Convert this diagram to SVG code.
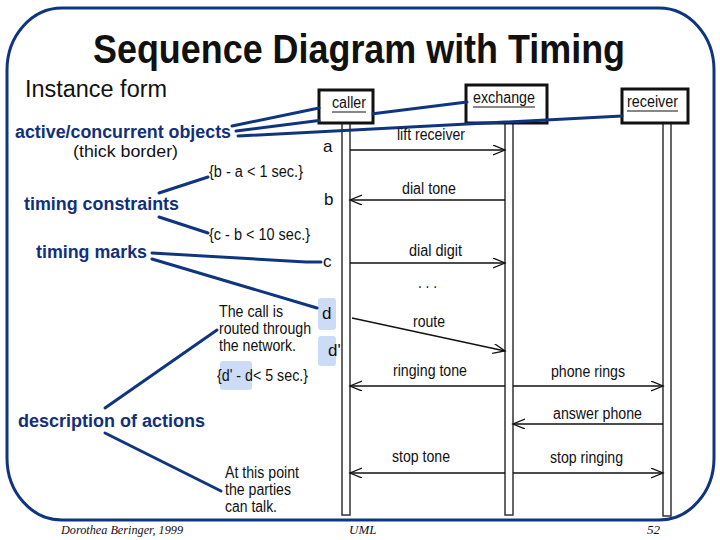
<svg xmlns="http://www.w3.org/2000/svg" width="720" height="540" viewBox="0 0 720 540">
<defs>
<style>
.t{font-family:"Liberation Sans",Arial,sans-serif;fill:#111;}
.lbl{font-family:"Liberation Sans",Arial,sans-serif;font-size:16px;fill:#111;}
.mk{font-family:"Liberation Sans",Arial,sans-serif;font-size:17px;fill:#111;}
.blue{font-family:"Liberation Sans",Arial,sans-serif;font-size:17.5px;font-weight:bold;fill:#12307a;}
.foot{font-family:"Liberation Serif","Times New Roman",serif;font-style:italic;font-size:13px;fill:#111;}
.msg{stroke:#111;stroke-width:1.3;fill:none;}
.lead{stroke:#0f3580;stroke-width:3;fill:none;stroke-linecap:round;}
.life{fill:#fff;stroke:#333;stroke-width:1.5;}
.box{fill:#fff;stroke:#111;stroke-width:3;}
.hl{fill:#cddcf6;}
.ul{stroke:#111;stroke-width:1.2;}
</style>
<marker id="arr" markerUnits="userSpaceOnUse" markerWidth="14" markerHeight="12" refX="12" refY="5" orient="auto">
<path d="M0,0 L12,5 L0,10" fill="none" stroke="#111" stroke-width="1.3"/>
</marker>
</defs>
<rect x="7" y="8" width="707" height="512" rx="55" ry="62" fill="#fff" stroke="#0f3580" stroke-width="3"/>
<text class="t" x="359" y="63" font-size="40" font-weight="bold" text-anchor="middle" textLength="532" lengthAdjust="spacingAndGlyphs">Sequence Diagram with Timing</text>
<text class="t" x="25" y="97" font-size="23" textLength="142" lengthAdjust="spacingAndGlyphs">Instance form</text>

<g id="highlights">
<rect class="hl" x="318" y="298" width="18" height="32" rx="3"/>
<rect class="hl" x="318" y="336" width="18" height="30" rx="3"/>
<rect class="hl" x="220" y="361" width="32" height="29" rx="3"/>
</g>

<g id="caller">
<rect class="life" x="342" y="122" width="8" height="393"/>
<rect class="box" x="319" y="90" width="54" height="33"/>
<text class="lbl" x="332" y="108" textLength="34" lengthAdjust="spacingAndGlyphs">caller</text>
<line class="ul" x1="332" y1="112" x2="366" y2="112"/>
</g>
<g id="exchange">
<rect class="life" x="505" y="122" width="8" height="393"/>
<rect class="box" x="466" y="85" width="81" height="38"/>
<text class="lbl" x="473" y="103" textLength="62" lengthAdjust="spacingAndGlyphs">exchange</text>
<line class="ul" x1="473" y1="107" x2="535" y2="107"/>
</g>
<g id="receiver">
<rect class="life" x="663" y="122" width="8" height="394"/>
<rect class="box" x="622" y="89" width="66" height="34"/>
<text class="lbl" x="627" y="107" textLength="51" lengthAdjust="spacingAndGlyphs">receiver</text>
<line class="ul" x1="627" y1="111" x2="678" y2="111"/>
</g>

<g id="connectors">
<line class="msg" x1="350" y1="150" x2="505" y2="150" marker-end="url(#arr)"/>
<line class="msg" x1="505" y1="200" x2="350" y2="200" marker-end="url(#arr)"/>
<line class="msg" x1="350" y1="263" x2="505" y2="263" marker-end="url(#arr)"/>
<line class="msg" x1="352" y1="318" x2="505" y2="351" marker-end="url(#arr)"/>
<line class="msg" x1="505" y1="386" x2="350" y2="386" marker-end="url(#arr)"/>
<line class="msg" x1="513" y1="386" x2="663" y2="386" marker-end="url(#arr)"/>
<line class="msg" x1="663" y1="424" x2="513" y2="424" marker-end="url(#arr)"/>
<line class="msg" x1="505" y1="473" x2="350" y2="473" marker-end="url(#arr)"/>
<line class="msg" x1="513" y1="473" x2="663" y2="473" marker-end="url(#arr)"/>

<line class="lead" x1="232" y1="126" x2="319" y2="108"/>
<line class="lead" x1="236" y1="131" x2="319" y2="120.5"/>
<line class="lead" x1="373" y1="113.7" x2="467" y2="101.9"/>
<line class="lead" x1="238" y1="136" x2="622" y2="116"/>
<line class="lead" x1="159" y1="193" x2="208" y2="177"/>
<line class="lead" x1="159" y1="217" x2="208" y2="233"/>
<polyline class="lead" points="152,253 306,262 321,262"/>
<line class="lead" x1="152" y1="259" x2="317" y2="308"/>
<line class="lead" x1="105" y1="408" x2="217" y2="330"/>
<line class="lead" x1="105" y1="433" x2="221" y2="491"/>
</g>

<g id="message-labels">
<text class="lbl" x="397" y="140" textLength="68" lengthAdjust="spacingAndGlyphs">lift receiver</text>
<text class="lbl" x="402" y="194" textLength="54" lengthAdjust="spacingAndGlyphs">dial tone</text>
<text class="lbl" x="409" y="256" textLength="53" lengthAdjust="spacingAndGlyphs">dial digit</text>
<text class="lbl" x="418" y="288" textLength="19" lengthAdjust="spacingAndGlyphs">. . .</text>
<text class="lbl" x="413" y="327" textLength="32" lengthAdjust="spacingAndGlyphs">route</text>
<text class="lbl" x="393" y="376" textLength="74" lengthAdjust="spacingAndGlyphs">ringing tone</text>
<text class="lbl" x="551" y="377" textLength="74" lengthAdjust="spacingAndGlyphs">phone rings</text>
<text class="lbl" x="553" y="419" textLength="89" lengthAdjust="spacingAndGlyphs">answer phone</text>
<text class="lbl" x="392" y="462" textLength="58" lengthAdjust="spacingAndGlyphs">stop tone</text>
<text class="lbl" x="550" y="463" textLength="73" lengthAdjust="spacingAndGlyphs">stop ringing</text>
</g>

<g id="timing-marks">
<text class="mk" x="323" y="152">a</text>
<text class="mk" x="324" y="205">b</text>
<text class="mk" x="323" y="267">c</text>
<text class="mk" x="322" y="319">d</text>
<text class="mk" x="328" y="356">d'</text>
</g>

<g id="annotations">
<text class="blue" x="15" y="138" textLength="216" lengthAdjust="spacingAndGlyphs">active/concurrent objects</text>
<text class="lbl" x="73" y="157" textLength="105" lengthAdjust="spacingAndGlyphs">(thick border)</text>
<text class="lbl" x="209" y="177" textLength="94" lengthAdjust="spacingAndGlyphs">{b - a &lt; 1 sec.}</text>
<text class="blue" x="24" y="210" textLength="155" lengthAdjust="spacingAndGlyphs">timing constraints</text>
<text class="lbl" x="209" y="240" textLength="101" lengthAdjust="spacingAndGlyphs">{c - b &lt; 10 sec.}</text>
<text class="blue" x="36" y="258" textLength="111" lengthAdjust="spacingAndGlyphs">timing marks</text>
<text class="lbl" x="219" y="317" textLength="64" lengthAdjust="spacingAndGlyphs">The call is</text>
<text class="lbl" x="219" y="334" textLength="92" lengthAdjust="spacingAndGlyphs">routed through</text>
<text class="lbl" x="219" y="351" textLength="77" lengthAdjust="spacingAndGlyphs">the network.</text>
<text class="lbl" x="217" y="381" textLength="91" lengthAdjust="spacingAndGlyphs">{d' - d&lt; 5 sec.}</text>
<text class="blue" x="18" y="427" textLength="187" lengthAdjust="spacingAndGlyphs">description of actions</text>
<text class="lbl" x="225" y="478" textLength="74" lengthAdjust="spacingAndGlyphs">At this point</text>
<text class="lbl" x="225" y="495" textLength="66" lengthAdjust="spacingAndGlyphs">the parties</text>
<text class="lbl" x="225" y="512" textLength="52" lengthAdjust="spacingAndGlyphs">can talk.</text>
</g>

<text class="foot" x="61" y="534" textLength="122" lengthAdjust="spacingAndGlyphs">Dorothea Beringer, 1999</text>
<text class="foot" x="349" y="534">UML</text>
<text class="foot" x="647" y="534">52</text>
</svg>
